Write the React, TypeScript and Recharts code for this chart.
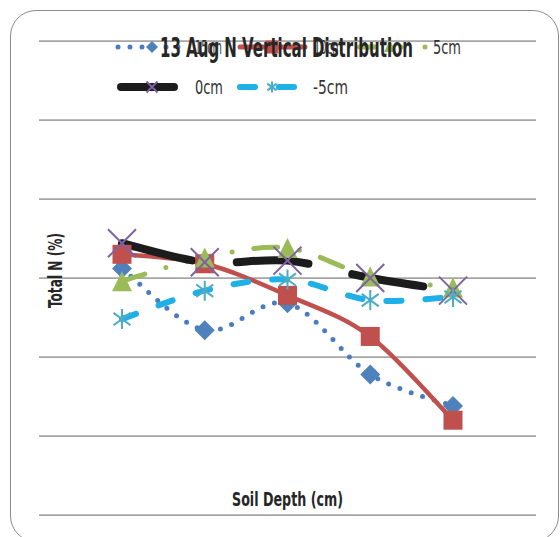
import React from "react";
import { LineChart, Line, XAxis, YAxis, CartesianGrid } from "recharts";

// ---- data ----
const depths = ["0-5", "5-10", "10-15", "15-20", "20-25"];
const s15 = [0.156, 0.117, 0.134, 0.089, 0.069];
const s10 = [0.165, 0.159, 0.139, 0.113, 0.06];
const s5 = [0.148, 0.163, 0.169, 0.151, 0.144];
const s0 = [0.172, 0.16, 0.161, 0.15, 0.142];
const sM5 = [0.124, 0.142, 0.149, 0.136, 0.138];
const yTicks = [0, 0.05, 0.1, 0.15, 0.2, 0.25, 0.3];
const seriesNames = ["15cm", "10cm", "5cm", "0cm", "-5cm"];
const title = "13 Aug N Vertical Distribution";
const xTitle = "Soil Depth (cm)";
const yTitle = "Total N (%)";

const data = depths.map((d, i) => ({
  depth: d,
  s15: s15[i],
  s10: s10[i],
  s5: s5[i],
  s0: s0[i],
  sM5: sM5[i],
}));

// ---- styles ----
const BLUE = "#4f81bd";
const BLUE_DOT = "#4a7dbf";
const RED = "#c0504d";
const GREEN = "#9bbb59";
const BLACK = "#1c1c1c";
const PURPLE = "#7e62a1";
const CYAN = "#1eb0e6";
const TEAL = "#4bacc6";
const FONT = "'Liberation Sans Narrow', 'DejaVu Sans Condensed', 'Arial Narrow', sans-serif";

// Excel-like smoothed line (cardinal / Catmull-Rom style Bezier)
const excelSmooth = (context: any) => {
  let pts: number[][] = [];
  return {
    areaStart() {},
    areaEnd() {},
    lineStart() {
      pts = [];
    },
    point(x: number, y: number) {
      pts.push([+x, +y]);
    },
    lineEnd() {
      const n = pts.length;
      if (!n) return;
      context.moveTo(pts[0][0], pts[0][1]);
      if (n === 2) {
        context.lineTo(pts[1][0], pts[1][1]);
        return;
      }
      for (let i = 0; i < n - 1; i++) {
        const p0 = pts[Math.max(i - 1, 0)];
        const p1 = pts[i];
        const p2 = pts[i + 1];
        const p3 = pts[Math.min(i + 2, n - 1)];
        const c1x = p1[0] + (p2[0] - p0[0]) / 6;
        const c1y = p1[1] + (p2[1] - p0[1]) / 6;
        const c2x = p2[0] - (p3[0] - p1[0]) / 6;
        const c2y = p2[1] - (p3[1] - p1[1]) / 6;
        context.bezierCurveTo(c1x, c1y, c2x, c2y, p2[0], p2[1]);
      }
    },
  };
};

// ---- marker shapes ----
const diamondShape = (cx: number, cy: number, r: number, key: string) => (
  <path key={key} d={`M${cx},${cy - r}L${cx + r},${cy}L${cx},${cy + r}L${cx - r},${cy}Z`} fill={BLUE} />
);
const squareShape = (cx: number, cy: number, s: number, key: string) => (
  <rect key={key} x={cx - s / 2} y={cy - s / 2} width={s} height={s} fill={RED} />
);
const triangleShape = (cx: number, cy: number, s: number, key: string) => (
  <path key={key} d={`M${cx},${cy - s / 2}L${cx + s / 2},${cy + s / 2}L${cx - s / 2},${cy + s / 2}Z`} fill={GREEN} />
);
const xShape = (cx: number, cy: number, s: number, key: string) => {
  const h = s / 2;
  return (
    <path
      key={key}
      d={`M${cx - h},${cy - h}L${cx + h},${cy + h}M${cx - h},${cy + h}L${cx + h},${cy - h}`}
      stroke={PURPLE}
      strokeWidth={2}
      fill="none"
    />
  );
};
const starShape = (cx: number, cy: number, s: number, key: string) => {
  const h = s / 2;
  const w = h * 0.85;
  const d2 = h * 0.62;
  return (
    <path
      key={key}
      d={`M${cx},${cy - h}L${cx},${cy + h}M${cx - w},${cy - d2}L${cx + w},${cy + d2}M${cx - w},${cy + d2}L${cx + w},${cy - d2}`}
      stroke={TEAL}
      strokeWidth={2}
      fill="none"
    />
  );
};

const mk = (fn: any, size: number, tag: string) => (p: any) => {
  const k = `${tag}${p.index}`;
  if (p.cx == null || p.cy == null) return <g key={k} />;
  return fn(p.cx, p.cy, size, k);
};

// ---- legend (layout only) ----
const Legend2 = () => {
  const t = { fontFamily: FONT, fontSize: 19, fill: "#333" } as any;
  return (
    <g>
      {/* 15cm */}
      <line x1={118} y1={47} x2={180} y2={47} stroke={BLUE_DOT} strokeWidth={5} strokeDasharray="0 12" strokeLinecap="round" />
      {diamondShape(152, 47, 6, "lg1")}
      <text x={195} y={54} {...t} textLength={27} lengthAdjust="spacingAndGlyphs">{seriesNames[0]}</text>
      {/* 10cm */}
      <line x1={240} y1={47} x2={305} y2={47} stroke={RED} strokeWidth={5} strokeLinecap="round" />
      {squareShape(272, 47, 13, "lg2")}
      <text x={314} y={54} {...t} textLength={28} lengthAdjust="spacingAndGlyphs">{seriesNames[1]}</text>
      {/* 5cm */}
      <line x1={359.5} y1={47} x2={375.5} y2={47} stroke={GREEN} strokeWidth={5} strokeLinecap="round" />
      {triangleShape(390, 46, 12, "lg3")}
      <circle cx={401} cy={47} r={2.5} fill={GREEN} />
      <circle cx={425} cy={47} r={2.5} fill={GREEN} />
      <text x={433} y={54} {...t} textLength={28} lengthAdjust="spacingAndGlyphs">{seriesNames[2]}</text>
      {/* 0cm */}
      <line x1={121} y1={87} x2={174} y2={87} stroke={BLACK} strokeWidth={8} strokeLinecap="round" />
      {xShape(152, 87, 11, "lg4")}
      <text x={195} y={94} {...t} textLength={28} lengthAdjust="spacingAndGlyphs">{seriesNames[3]}</text>
      {/* -5cm */}
      <line x1={240} y1={87} x2={297} y2={87} stroke={CYAN} strokeWidth={6} strokeDasharray="15 24" strokeLinecap="round" />
      {starShape(272, 87, 11, "lg5")}
      <text x={313} y={94} {...t} textLength={35} lengthAdjust="spacingAndGlyphs">{seriesNames[4]}</text>
    </g>
  );
};

const Titles = () => (
  <g>
    <text
      x={160}
      y={57}
      fontFamily={FONT}
      fontWeight="bold"
      fontSize={26}
      fill="#262626"
      textLength={253}
      lengthAdjust="spacingAndGlyphs"
    >
      {title}
    </text>
    <text
      x={232}
      y={506}
      fontFamily={FONT}
      fontWeight="bold"
      fontSize={19}
      fill="#262626"
      textLength={111}
      lengthAdjust="spacingAndGlyphs"
    >
      {xTitle}
    </text>
    <text
      transform="translate(62,308) rotate(-90)"
      x={0}
      y={0}
      fontFamily={FONT}
      fontWeight="bold"
      fontSize={19}
      fill="#262626"
      textLength={75}
      lengthAdjust="spacingAndGlyphs"
    >
      {yTitle}
    </text>
  </g>
);

export default function App() {
  return (
    <div style={{ position: "absolute", left: 0, top: 0, width: 560, height: 537, background: "#fff", overflow: "hidden" }}>
      <div
        style={{
          position: "absolute",
          left: 10,
          top: 10,
          width: 549,
          height: 532,
          border: "1.5px solid #8c8c8c",
          borderRadius: 26,
          boxSizing: "border-box",
        }}
      />
      <div style={{ position: "absolute", left: 0, top: 0 }}>
        <LineChart width={560} height={537} data={data} margin={{ top: 41, right: 24, bottom: 22, left: 39 }}>
          <CartesianGrid vertical={false} stroke="#a6a6a6" strokeWidth={1.75} />
          <XAxis dataKey="depth" hide scale="point" padding={{ left: 83, right: 83 }} />
          <YAxis hide domain={[0, 0.3]} ticks={yTicks} type="number" />
          <Line
            dataKey="s15"
            name={seriesNames[0]}
            type={excelSmooth as any}
            stroke={BLUE_DOT}
            strokeWidth={5}
            strokeDasharray="0 12"
            strokeLinecap="round"
            dot={mk(diamondShape, 10, "a")}
            activeDot={false}
            isAnimationActive={false}
          />
          <Line
            dataKey="s10"
            name={seriesNames[1]}
            type={excelSmooth as any}
            stroke={RED}
            strokeWidth={4.5}
            dot={mk(squareShape, 19, "b")}
            activeDot={false}
            isAnimationActive={false}
          />
          <Line
            dataKey="s5"
            name={seriesNames[2]}
            type={excelSmooth as any}
            stroke={GREEN}
            strokeWidth={5}
            strokeDasharray="24 22 0 22"
            strokeLinecap="round"
            dot={mk(triangleShape, 20, "c")}
            activeDot={false}
            isAnimationActive={false}
          />
          <Line
            dataKey="s0"
            name={seriesNames[3]}
            type={excelSmooth as any}
            stroke={BLACK}
            strokeWidth={8}
            strokeDasharray="72 45"
            strokeLinecap="round"
            dot={mk(xShape, 28, "d")}
            activeDot={false}
            isAnimationActive={false}
          />
          <Line
            dataKey="sM5"
            name={seriesNames[4]}
            type={excelSmooth as any}
            stroke={CYAN}
            strokeWidth={6}
            strokeDasharray="15 24"
            strokeLinecap="round"
            dot={mk(starShape, 20, "e")}
            activeDot={false}
            isAnimationActive={false}
          />
          <Legend2 />
          <Titles />
        </LineChart>
      </div>
    </div>
  );
}
